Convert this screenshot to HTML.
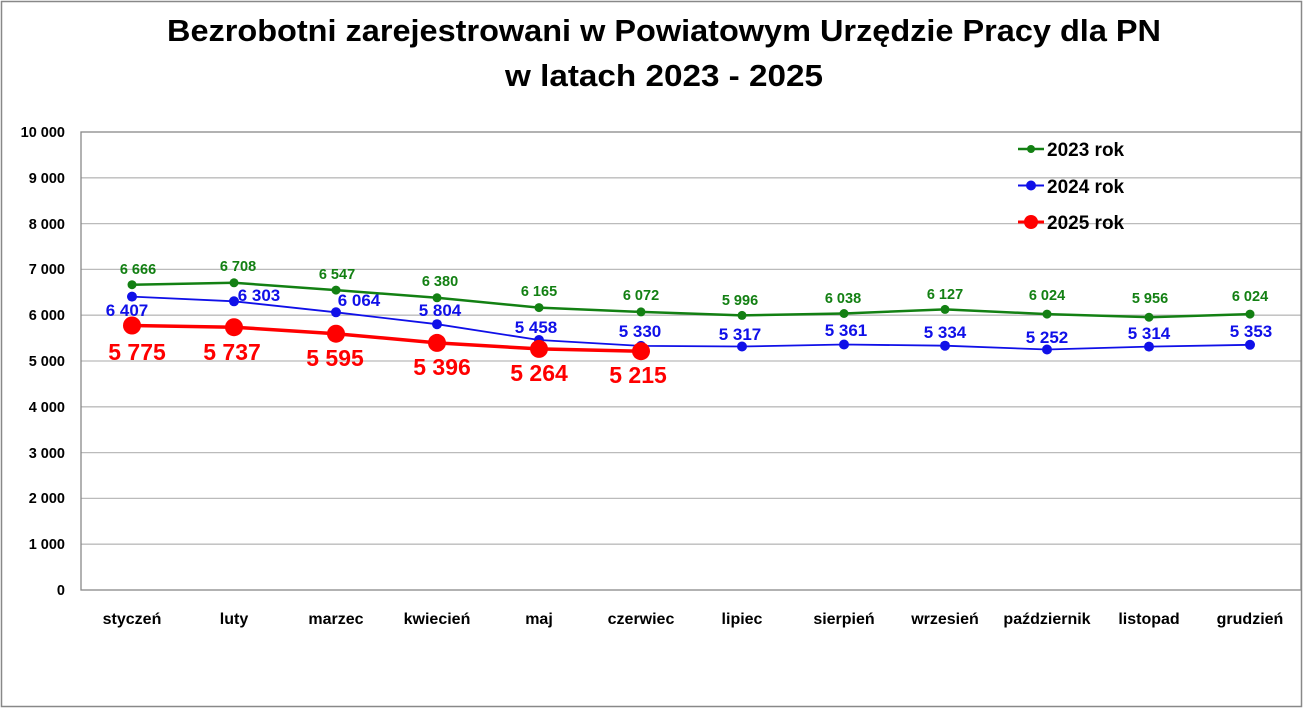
<!DOCTYPE html>
<html><head><meta charset="utf-8"><style>
html,body{margin:0;padding:0;background:#fff;}
svg{display:block;font-family:"Liberation Sans",sans-serif;font-weight:bold;}
</style></head><body>
<svg width="1303" height="709" viewBox="0 0 1303 709" xmlns="http://www.w3.org/2000/svg">
<rect x="1.5" y="1.5" width="1300" height="705" fill="#fff" stroke="#888" stroke-width="1.5"/>
<text x="664" y="41" font-size="31" text-anchor="middle" textLength="994" lengthAdjust="spacingAndGlyphs">Bezrobotni zarejestrowani w Powiatowym Urzędzie Pracy dla PN</text>
<text x="664" y="86" font-size="31" text-anchor="middle" textLength="318" lengthAdjust="spacingAndGlyphs">w latach 2023 - 2025</text>
<g stroke="#bbb" stroke-width="1.3">
<line x1="81" x2="1301" y1="177.8" y2="177.8"/><line x1="81" x2="1301" y1="223.6" y2="223.6"/>
<line x1="81" x2="1301" y1="269.4" y2="269.4"/><line x1="81" x2="1301" y1="315.2" y2="315.2"/>
<line x1="81" x2="1301" y1="361" y2="361"/><line x1="81" x2="1301" y1="406.8" y2="406.8"/>
<line x1="81" x2="1301" y1="452.6" y2="452.6"/><line x1="81" x2="1301" y1="498.4" y2="498.4"/>
<line x1="81" x2="1301" y1="544.2" y2="544.2"/>
</g>
<rect x="81" y="132" width="1220" height="458" fill="none" stroke="#888" stroke-width="1.3"/>
<g font-size="14.5" text-anchor="end">
<text x="65" y="137">10 000</text><text x="65" y="183">9 000</text><text x="65" y="229">8 000</text>
<text x="65" y="274">7 000</text><text x="65" y="320">6 000</text><text x="65" y="366">5 000</text>
<text x="65" y="412">4 000</text><text x="65" y="458">3 000</text><text x="65" y="503">2 000</text>
<text x="65" y="549">1 000</text><text x="65" y="595">0</text>
</g>
<g font-size="16" text-anchor="middle">
<text x="132" y="624">styczeń</text><text x="234" y="624">luty</text><text x="336" y="624">marzec</text>
<text x="437" y="624">kwiecień</text><text x="539" y="624">maj</text><text x="641" y="624">czerwiec</text>
<text x="742" y="624">lipiec</text><text x="844" y="624">sierpień</text><text x="945" y="624">wrzesień</text>
<text x="1047" y="624">październik</text><text x="1149" y="624">listopad</text><text x="1250" y="624">grudzień</text>
</g>
<!-- 2023 -->
<polyline fill="none" stroke="#138013" stroke-width="2.5" points="132,284.7 234,282.8 336,290.1 437,297.8 539,307.6 641,311.9 742,315.4 844,313.5 945,309.4 1047,314.1 1149,317.2 1250,314.1"/>
<g fill="#138013"><circle cx="132" cy="284.7" r="4.5"/><circle cx="234" cy="282.8" r="4.5"/><circle cx="336" cy="290.1" r="4.5"/><circle cx="437" cy="297.8" r="4.5"/><circle cx="539" cy="307.6" r="4.5"/><circle cx="641" cy="311.9" r="4.5"/><circle cx="742" cy="315.4" r="4.5"/><circle cx="844" cy="313.5" r="4.5"/><circle cx="945" cy="309.4" r="4.5"/><circle cx="1047" cy="314.1" r="4.5"/><circle cx="1149" cy="317.2" r="4.5"/><circle cx="1250" cy="314.1" r="4.5"/></g>
<g fill="#138013" font-size="14.5" text-anchor="middle">
<text x="138" y="274">6 666</text><text x="238" y="271">6 708</text><text x="337" y="279">6 547</text><text x="440" y="286">6 380</text><text x="539" y="296">6 165</text><text x="641" y="300">6 072</text><text x="740" y="305">5 996</text><text x="843" y="303">6 038</text><text x="945" y="299">6 127</text><text x="1047" y="300">6 024</text><text x="1150" y="303">5 956</text><text x="1250" y="301">6 024</text>
</g>
<!-- 2024 -->
<polyline fill="none" stroke="#1010e8" stroke-width="1.8" points="132,296.6 234,301.3 336,312.3 437,324.2 539,340 641,345.9 742,346.5 844,344.5 945,345.7 1047,349.5 1149,346.6 1250,344.8"/>
<g fill="#1010e8"><circle cx="132" cy="296.6" r="5"/><circle cx="234" cy="301.3" r="5"/><circle cx="336" cy="312.3" r="5"/><circle cx="437" cy="324.2" r="5"/><circle cx="539" cy="340" r="5"/><circle cx="641" cy="345.9" r="5"/><circle cx="742" cy="346.5" r="5"/><circle cx="844" cy="344.5" r="5"/><circle cx="945" cy="345.7" r="5"/><circle cx="1047" cy="349.5" r="5"/><circle cx="1149" cy="346.6" r="5"/><circle cx="1250" cy="344.8" r="5"/></g>
<g fill="#1010e8" font-size="17" text-anchor="middle">
<text x="127" y="316">6 407</text><text x="259" y="301">6 303</text><text x="359" y="306">6 064</text><text x="440" y="316">5 804</text><text x="536" y="333">5 458</text><text x="640" y="337">5 330</text><text x="740" y="340">5 317</text><text x="846" y="336">5 361</text><text x="945" y="338">5 334</text><text x="1047" y="343">5 252</text><text x="1149" y="339">5 314</text><text x="1251" y="337">5 353</text>
</g>
<!-- 2025 -->
<polyline fill="none" stroke="#ff0000" stroke-width="3.5" points="132,325.5 234,327.2 336,333.7 437,342.9 539,348.9 641,351.2"/>
<g fill="#ff0000"><circle cx="132" cy="325.5" r="9"/><circle cx="234" cy="327.2" r="9"/><circle cx="336" cy="333.7" r="9"/><circle cx="437" cy="342.9" r="9"/><circle cx="539" cy="348.9" r="9"/><circle cx="641" cy="351.2" r="9"/></g>
<g fill="#ff0000" font-size="23" text-anchor="middle">
<text x="137" y="360">5 775</text><text x="232" y="360">5 737</text><text x="335" y="366">5 595</text><text x="442" y="375">5 396</text><text x="539" y="381">5 264</text><text x="638" y="383">5 215</text>
</g>
<!-- legend -->
<line x1="1018" x2="1044" y1="149" y2="149" stroke="#138013" stroke-width="2.5"/><circle cx="1031" cy="149" r="4" fill="#138013"/>
<line x1="1018" x2="1044" y1="185.5" y2="185.5" stroke="#1010e8" stroke-width="2"/><circle cx="1031" cy="185.5" r="5" fill="#1010e8"/>
<line x1="1018" x2="1044" y1="222" y2="222" stroke="#ff0000" stroke-width="3"/><circle cx="1031" cy="222" r="7" fill="#ff0000"/>
<g font-size="19"><text x="1047" y="156">2023 rok</text><text x="1047" y="193">2024 rok</text><text x="1047" y="229">2025 rok</text></g>
</svg>
</body></html>
